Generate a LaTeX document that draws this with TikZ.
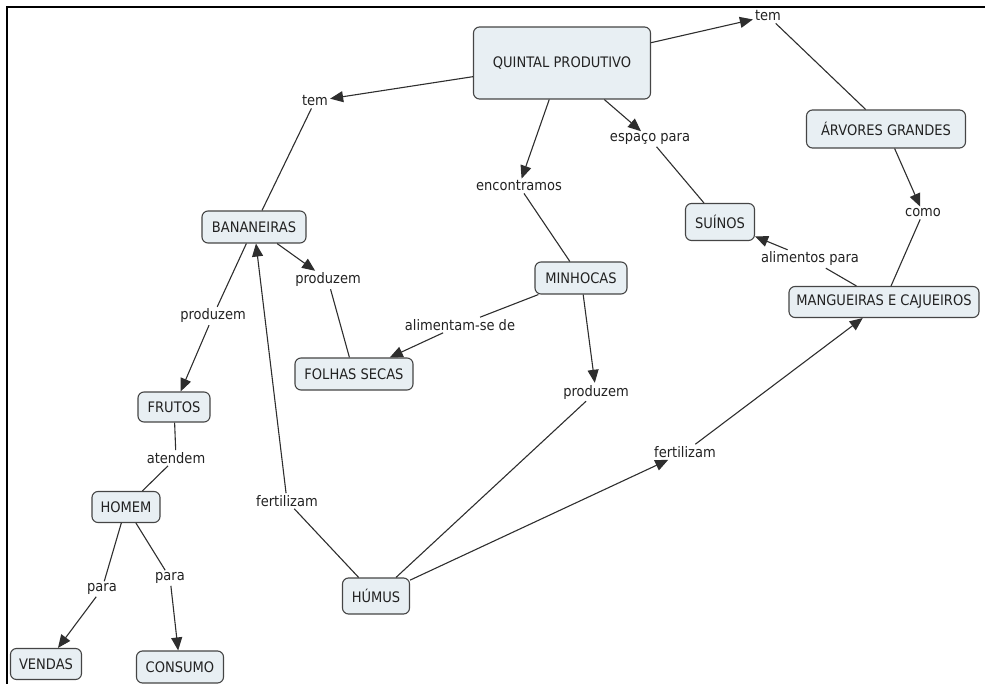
\documentclass[tikz,border=0pt]{standalone}
\usepackage{fontspec}
\setmainfont{DejaVu Sans}[FakeStretch=0.9]
\usetikzlibrary{arrows.meta}
\definecolor{boxc}{HTML}{E8EFF3}
\definecolor{bordc}{HTML}{454545}
\definecolor{txtc}{HTML}{222222}
\definecolor{linec}{HTML}{2E2E2E}
\begin{document}
\begin{tikzpicture}[x=1pt,y=-1pt,
  every node/.style={font=\fontsize{14.5}{16}\selectfont, text=txtc},
  concept/.style={draw=bordc, fill=boxc, rounded corners=6pt, line width=1.1pt,
    inner xsep=5pt, minimum height=32pt},
  lbl/.style={inner sep=2pt},
  link/.style={draw=linec, line width=1.1pt},
  arr/.style={link, -{Triangle[length=13pt,width=11pt]}}]
\useasboundingbox (0,0) rectangle (985,684);
% frame
\draw[line width=2pt] (7,684) -- (7,7) -- (985,7);

% concepts
\node[concept, minimum width=177pt, minimum height=72pt] (qp) at (562,63) {QUINTAL PRODUTIVO};
\node[concept, minimum width=159pt, minimum height=38pt] (arv) at (886,129) {ÁRVORES GRANDES};
\node[concept, minimum width=104pt] (ban) at (254,227) {BANANEIRAS};
\node[concept, minimum width=69pt, minimum height=37pt] (sui) at (720,222) {SUÍNOS};
\node[concept, minimum width=92pt] (minh) at (581,278) {MINHOCAS};
\node[concept, minimum width=190pt, minimum height=31pt] (mang) at (884,302) {MANGUEIRAS E CAJUEIROS};
\node[concept, minimum width=118pt] (folhas) at (354,374) {FOLHAS SECAS};
\node[concept, minimum width=67pt, minimum height=36pt] (humus) at (376,596) {HÚMUS};
\node[concept, minimum width=72pt, minimum height=30pt] (frutos) at (174,407) {FRUTOS};
\node[concept, minimum width=68pt, minimum height=31pt] (homem) at (126,507) {HOMEM};
\node[concept, minimum width=71pt, minimum height=31pt] (vendas) at (46,664) {VENDAS};
\node[concept, minimum width=87pt] (consumo) at (180,667) {CONSUMO};

% linking phrases
\node[lbl] (temL) at (315,101) {tem};
\node[lbl] (temR) at (768,16) {tem};
\node[lbl] (enc) at (519,186) {encontramos};
\node[lbl] (esp) at (650,139) {espaço para};
\node[lbl] (como) at (923,213) {como};
\node[lbl] (alim) at (810,259) {alimentos para};
\node[lbl] (prodB) at (328,280) {produzem};
\node[lbl] (alimse) at (460,325) {alimentam-se de};
\node[lbl] (prodM) at (596,392) {produzem};
\node[lbl] (prodL) at (213,316) {produzem};
\node[lbl] (atendem) at (176,458) {atendem};
\node[lbl] (paraL) at (102,589) {para};
\node[lbl] (paraR) at (170,578) {para};
\node[lbl] (fertL) at (287,501) {fertilizam};
\node[lbl] (fertR) at (685,452) {fertilizam};

% connectors
\draw[arr] (qp) -- (temL);
\draw[link] (temL) -- (ban);
\draw[arr] (qp) -- (temR);
\draw[link] (temR) -- (arv);
\draw[arr] (qp) -- (enc);
\draw[link] (enc) -- (minh);
\draw[arr] (qp) -- (esp);
\draw[link] (esp) -- (sui);
\draw[arr] (arv) -- (como);
\draw[link] (como) -- (mang);
\draw[link] (mang) -- (alim);
\draw[arr] (alim) -- (sui);
\draw[arr] (ban) -- (prodB);
\draw[link] (prodB) -- (folhas);
\draw[link] (minh) -- (alimse);
\draw[arr] (alimse) -- (folhas);
\draw[arr] (minh) -- (prodM);
\draw[link] (prodM) -- (humus);
\draw[link] (ban) -- (prodL);
\draw[arr] (prodL) -- (frutos);
\draw[link] (frutos) -- (atendem);
\draw[link] (atendem) -- (homem);
\draw[link] (homem) -- (paraL);
\draw[arr] (paraL) -- (vendas);
\draw[link] (homem) -- (paraR);
\draw[arr] (paraR) -- (consumo);
\draw[link] (humus) -- (fertL);
\draw[arr] (fertL) -- (ban);
\draw[arr] (humus) -- (fertR);
\draw[arr] (fertR) -- (mang);
\end{tikzpicture}
\end{document}
